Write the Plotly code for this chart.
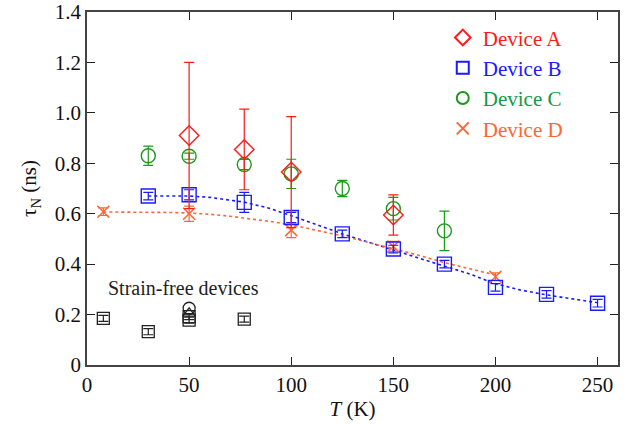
import plotly.graph_objects as go

# Device A
a_T = [50, 77, 100, 150]
a_tau = [0.91, 0.855, 0.765, 0.595]
a_err = [0.29, 0.16, 0.22, 0.08]

# Device B
b_T = [30, 50, 77, 100, 125, 150, 175, 200, 225, 250]
b_tau = [0.67, 0.675, 0.645, 0.585, 0.52, 0.46, 0.40, 0.308, 0.28, 0.245]
b_err = [0.015, 0.02, 0.04, 0.02, 0.015, 0.015, 0.015, 0.015, 0.015, 0.015]

# Device C
c_T = [30, 50, 77, 100, 125, 150, 175]
c_tau = [0.83, 0.828, 0.795, 0.758, 0.70, 0.62, 0.532]
c_err = [0.038, 0.012, 0.02, 0.058, 0.032, 0.045, 0.078]

# Device D
d_T = [8, 50, 100, 150, 200]
d_tau = [0.608, 0.60, 0.535, 0.47, 0.35]
d_err = [0.015, 0.03, 0.03, 0.02, 0.015]

# Fit curves
bfit_T = [30, 40, 50, 60, 70, 77, 90, 100, 112, 125, 137, 150, 162, 175, 187, 200, 212, 225, 237, 250]
bfit_tau = [0.670, 0.671, 0.670, 0.665, 0.655, 0.646, 0.620, 0.593, 0.558, 0.520, 0.488, 0.456, 0.425, 0.392, 0.362, 0.322, 0.298, 0.278, 0.262, 0.247]
dfit_T = [8, 20, 30, 40, 50, 60, 70, 80, 90, 100, 112, 125, 137, 150, 162, 175, 187, 200]
dfit_tau = [0.607, 0.607, 0.606, 0.605, 0.603, 0.598, 0.590, 0.580, 0.569, 0.556, 0.536, 0.512, 0.488, 0.462, 0.436, 0.406, 0.382, 0.357]

# Strain-free devices
sf_sq_T = [8, 30, 50, 50, 77]
sf_sq_tau = [0.185, 0.132, 0.178, 0.192, 0.182]
sf_circ_T = [50]
sf_circ_tau = [0.225]
sf_tri_T = [50]
sf_tri_tau = [0.205]

y_ticks = [0, 0.2, 0.4, 0.6, 0.8, 1.0, 1.2, 1.4]
y_ticktext = ["0", "0.2", "0.4", "0.6", "0.8", "1.0", "1.2", "1.4"]
x_ticks = [0, 50, 100, 150, 200, 250]

RED = "#ff1a1a"
BLUE = "#1a1aff"
GREEN = "#1a9a1a"
GREEN_TXT = "#12994a"
ORANGE = "#ff6633"
BLACK = "#222222"
SERIF = "Liberation Serif"

fig = go.Figure()

fig.add_trace(go.Scatter(x=bfit_T, y=bfit_tau, mode="lines", showlegend=False,
                         line=dict(color=BLUE, width=1.6, dash="dot"), hoverinfo="skip"))
fig.add_trace(go.Scatter(x=dfit_T, y=dfit_tau, mode="lines", showlegend=False,
                         line=dict(color=ORANGE, width=1.6, dash="dot"), hoverinfo="skip"))

def err(arr, color):
    return dict(type="data", array=arr, visible=True, color=color, thickness=1.2, width=5)

fig.add_trace(go.Scatter(x=sf_sq_T, y=sf_sq_tau, mode="markers", showlegend=False,
                         marker=dict(symbol="square-open", size=12, color=BLACK, line=dict(width=1.3)),
                         error_y=err([0.012] * len(sf_sq_T), BLACK)))
fig.add_trace(go.Scatter(x=sf_circ_T, y=sf_circ_tau, mode="markers", showlegend=False,
                         marker=dict(symbol="circle-open", size=12, color=BLACK, line=dict(width=1.3))))
fig.add_trace(go.Scatter(x=sf_tri_T, y=sf_tri_tau, mode="markers", showlegend=False,
                         marker=dict(symbol="triangle-up-open", size=11, color=BLACK, line=dict(width=1.3))))

fig.add_trace(go.Scatter(x=c_T, y=c_tau, mode="markers", legendrank=3,
                         name=f"<span style='color:{GREEN_TXT}'>Device C</span>",
                         marker=dict(symbol="circle-open", size=14, color=GREEN, line=dict(width=1.4)),
                         error_y=err(c_err, GREEN)))
fig.add_trace(go.Scatter(x=d_T, y=d_tau, mode="markers", legendrank=4,
                         name=f"<span style='color:{ORANGE}'>Device D</span>",
                         marker=dict(symbol="x-thin-open", size=12, color=ORANGE, line=dict(width=1.5, color=ORANGE)),
                         error_y=err(d_err, ORANGE)))
fig.add_trace(go.Scatter(x=b_T, y=b_tau, mode="markers", legendrank=2,
                         name=f"<span style='color:{BLUE}'>Device B</span>",
                         marker=dict(symbol="square-open", size=14, color=BLUE, line=dict(width=1.4)),
                         error_y=err(b_err, BLUE)))
fig.add_trace(go.Scatter(x=a_T, y=a_tau, mode="markers", legendrank=1,
                         name=f"<span style='color:{RED}'>Device A</span>",
                         marker=dict(symbol="diamond-open", size=15, color=RED, line=dict(width=1.4)),
                         error_y=err(a_err, RED)))

fig.add_annotation(x=9.5, y=0.305, xref="x", yref="y", text="Strain-free devices", showarrow=False,
                   xanchor="left", yanchor="middle", font=dict(size=20, color="#222", family=SERIF))

axis_common = dict(showline=True, linecolor="#444", linewidth=1.5, mirror="ticks",
                   ticks="inside", ticklen=8, tickwidth=1.2, tickcolor="#222",
                   showgrid=False, zeroline=False, automargin=False,
                   tickfont=dict(size=21, color="#111", family=SERIF))

fig.update_layout(
    template="none",
    width=638, height=424,
    margin=dict(l=87, r=20, t=12, b=59),
    paper_bgcolor="white", plot_bgcolor="white",
    font=dict(family=SERIF, color="#111", size=20),
    xaxis=dict(range=[0, 260], tickvals=x_ticks,
               title=dict(text="<i>T</i> (K)", font=dict(size=21, family=SERIF), standoff=5), **axis_common),
    yaxis=dict(range=[0, 1.4], tickvals=y_ticks, ticktext=y_ticktext,
               title=dict(text="τ<sub>N</sub> (ns)", font=dict(size=21, family=SERIF), standoff=12), **axis_common),
    legend=dict(x=0.67, y=0.985, xanchor="left", yanchor="top", traceorder="normal",
                font=dict(size=21, family=SERIF), bgcolor="rgba(0,0,0,0)", itemsizing="constant",
                tracegroupgap=0),
)

fig.write_html("out.html", config={"displayModeBar": False},
               post_script="document.body.style.margin='0';document.body.style.overflow='hidden';")
